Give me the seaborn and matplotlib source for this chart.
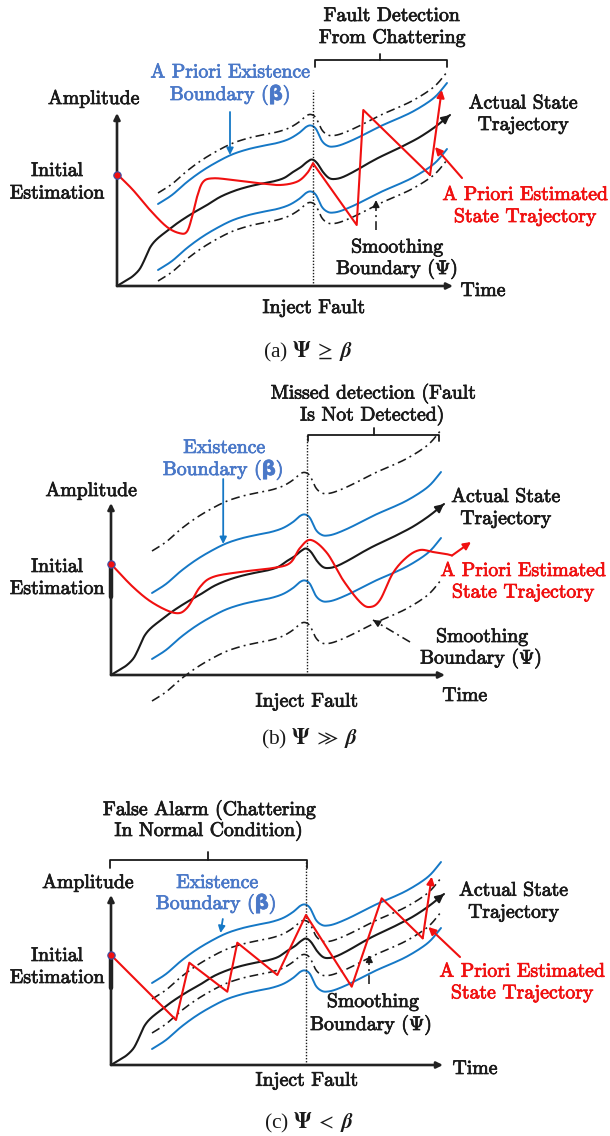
import numpy as np
import matplotlib
matplotlib.use("Agg")
import matplotlib.pyplot as plt
import matplotlib.patheffects as pe
import seaborn as sns

# ---------------------------------------------------------------- data ----
# Actual state trajectory (time, amplitude), shared by the three scenarios
actual_time = [0, 10, 16, 22, 26, 30, 34, 40, 50, 62, 76, 90, 103, 117, 130, 143,
               156, 167, 176, 184, 190, 195, 200, 206, 212, 218, 226, 238, 250,
               263, 276, 290, 303, 318, 333]
actual_amp = [0, 6, 10, 16, 23, 32, 40, 47, 55, 64, 73, 81, 89, 95, 99, 102,
              104.5, 108, 114, 119, 124, 126.5, 123, 114, 108, 107, 109, 115, 122,
              129, 135, 142, 149, 159, 171]

# Centre line of the boundary bands
band_time = [41, 55, 70, 85, 100, 115, 130, 145, 160, 172, 182, 189, 194, 199,
             205, 211, 217, 225, 238, 252, 266, 280, 295, 310, 320, 330]
band_center = [49, 58, 71, 82, 91, 98.5, 103.5, 107, 110, 114, 120, 126, 127.5, 124,
               112, 107, 106.5, 108.5, 114, 121, 128, 134, 141, 150, 158, 170]

existence_halfwidth = 33                      # beta
smoothing_halfwidth = {"a": 44, "b": 75, "c": 17}   # psi

# A priori estimated state trajectories
est_a_smooth_time = [1, 16, 33, 50, 63, 70, 75, 80, 86, 96, 116, 143, 163, 180, 190, 196]
est_a_smooth_amp = [111, 96, 76, 59, 52.7, 54.5, 69, 89, 104, 107.7, 106, 102.7, 101,
                    104.3, 112.7, 122.7]
est_a_chatter_time = [196, 239.7, 246.3, 313, 324.7]
est_a_chatter_amp = [122.7, 61, 176, 111, 196]

est_b_time = [0, 22, 42, 64, 76, 89, 102, 129, 162, 179, 189, 200, 216, 232, 249,
              259, 269, 282, 296, 309, 322, 335, 341]
est_b_amp = [111, 88, 72, 62, 67, 88, 98, 103, 107, 112, 127, 135, 122, 95, 73,
             68, 75, 102, 118, 125, 123, 121, 119.5]
est_b_tip = (360, 133)

est_c_time = [0, 65, 78.3, 116.3, 126.3, 166.3, 195, 240.7, 270.7, 311.7, 320.7]
est_c_amp = [110, 45, 102.3, 73.3, 122.3, 90, 150, 78.3, 166.7, 126.7, 188.3]

captions = {"a": r"(a) $\mathbf{\Psi}\ \geq\ \mathbfit{\beta}$",
            "b": r"(b) $\mathbf{\Psi}\ \gg\ \mathbfit{\beta}$",
            "c": r"(c) $\mathbf{\Psi}\ <\ \mathbfit{\beta}$"}

# ------------------------------------------------------------- styling ----
W, H = 610, 1136
BLACK = "#1a1a1a"
BLUE_LINE = "#1578c6"
BLUE_TEXT = "#4a78c8"
RED = "#f01010"
DASHDOT = (0, (5.5, 2.6, 1.2, 2.6))
FS = 14.2

sns.set_theme(style="white")
plt.rcParams["font.family"] = ["cmr10", "DejaVu Sans"]
plt.rcParams["mathtext.fontset"] = "cm"
plt.rcParams["axes.unicode_minus"] = False

fig = plt.figure(figsize=(W / 100, H / 100), dpi=100)


def catmull(t, v, n=16):
    p = np.column_stack([t, v]).astype(float)
    p = np.vstack([2 * p[0] - p[1], p, 2 * p[-1] - p[-2]])
    s = np.linspace(0, 1, n, endpoint=False)[:, None]
    out = []
    for i in range(1, len(p) - 2):
        p0, p1, p2, p3 = p[i - 1], p[i], p[i + 1], p[i + 2]
        out.append(0.5 * (2 * p1 + (-p0 + p2) * s
                          + (2 * p0 - 5 * p1 + 4 * p2 - p3) * s ** 2
                          + (-p0 + 3 * p1 - 3 * p2 + p3) * s ** 3))
    out.append(p[-2][None, :])
    return np.vstack(out)


def curve(ax, t, v, color, lw=1.4, ls="-", smooth=True):
    pts = catmull(t, v) if smooth else np.column_stack([t, v])
    sns.lineplot(x=pts[:, 0], y=pts[:, 1], ax=ax, color=color, lw=lw,
                 linestyle=ls, sort=False, estimator=None, legend=False)
    return pts


def arrow(ax, tail, head, color, lw=1.4, ms=11):
    ax.annotate("", xy=head, xytext=tail,
                arrowprops=dict(arrowstyle="-|>", color=color, lw=lw,
                                shrinkA=0, shrinkB=0, mutation_scale=ms))


def dashed_arrow(ax, tail, head, color=BLACK, lw=1.15):
    curve(ax, [tail[0], head[0]], [tail[1], head[1]], color, lw=lw, ls=DASHDOT, smooth=False)
    d = np.array(head, float) - np.array(tail, float)
    d /= np.hypot(*d)
    arrow(ax, tuple(np.array(head) - 7 * d), head, color, lw=lw, ms=10)


def make_panel(ox, oy, ytop, ybot):
    ax = fig.add_axes([0, 1 - ybot / H, 1, (ybot - ytop) / H])
    ax.set_xlim(-ox, W - ox)
    ax.set_ylim(oy - ybot, oy - ytop)
    ax.axis("off")

    def put(x, y, s, color=BLACK, size=FS, heavy=True, **kw):
        effects = [pe.withStroke(linewidth=0.55, foreground=color)] if heavy else []
        ax.text(x - ox, oy - y, s, color=color, fontsize=size, ha="center",
                va="center", path_effects=effects, **kw)
    return ax, put


def bracket(ax, u0, u1, v_bar, v_end, u_nub, v_nub):
    curve(ax, [u0, u0, u1, u1], [v_end, v_bar, v_bar, v_end], BLACK, lw=1.3, smooth=False)
    curve(ax, [u_nub, u_nub], [v_bar, v_nub], BLACK, lw=1.3, smooth=False)


def common(ax, key, x_end, y_top, init_amp, thick_bar=False):
    center = np.array(band_center)
    sw = smoothing_halfwidth[key]
    curve(ax, band_time, center + sw, BLACK, lw=1.15, ls=DASHDOT)
    curve(ax, band_time, center - sw, BLACK, lw=1.15, ls=DASHDOT)
    curve(ax, band_time, center + existence_halfwidth, BLUE_LINE, lw=1.4)
    curve(ax, band_time, center - existence_halfwidth, BLUE_LINE, lw=1.4)
    pts = curve(ax, actual_time, actual_amp, BLACK, lw=1.5)
    arrow(ax, tuple(pts[-4]), tuple(pts[-1]), BLACK, lw=1.5, ms=12)
    # coordinate axes
    arrow(ax, (0, 0), (0, y_top), "#222222", lw=1.9, ms=9)
    arrow(ax, (0, 0), (x_end, 0), "#222222", lw=1.9, ms=9)
    if thick_bar:
        curve(ax, [0, 0], [init_amp, init_amp - 33], "#222222", lw=3.2, smooth=False)
    sns.scatterplot(x=[0], y=[init_amp], ax=ax, s=28, color=RED,
                    edgecolor="#3a4fa8", linewidth=0.8, zorder=6, legend=False)


CAPTION_KW = dict(size=15.5, heavy=False, family="Liberation Serif", math_fontfamily="stix")

# ------------------------------------------------------------ panel (a) ----
ox, oy = 117, 286
ax, put = make_panel(ox, oy, 0, 370)
common(ax, "a", 336, 173, 111)
curve(ax, [196, 196], [0, 196], BLACK, lw=1.0, ls=(0, (1, 1.2)), smooth=False)
curve(ax, est_a_smooth_time, est_a_smooth_amp, RED, lw=1.5)
curve(ax, est_a_chatter_time[:-1], est_a_chatter_amp[:-1], RED, lw=1.5, smooth=False)
arrow(ax, (est_a_chatter_time[-2], est_a_chatter_amp[-2]),
      (est_a_chatter_time[-1], est_a_chatter_amp[-1]), RED, lw=1.5, ms=11)
bracket(ax, 197.8, 329.8, 226, 219, 263, 232)
arrow(ax, (113, 174), (113, 131), BLUE_LINE, lw=1.3, ms=10)
dashed_arrow(ax, (259, 56), (259, 86))
arrow(ax, (345, 108), (318, 139), RED, lw=1.5, ms=11)

put(391.5, 16, "Fault Detection")
put(392, 38, "From Chattering")
put(230, 72.5, "A Priori Existence", BLUE_TEXT)
put(230, 95, "Boundary (β)", BLUE_TEXT, fontweight="bold")
put(93.5, 99, "Amplitude")
put(523, 103.5, "Actual State")
put(523, 125, "Trajectory")
put(57, 171, "Initial")
put(57, 193.5, "Estimation")
put(525, 195, "A Priori Estimated", RED)
put(525, 217, "State Trajectory", RED)
put(397, 247.5, "Smoothing")
put(397, 269, r"Boundary ($\mathbf{\Psi}$)")
put(483, 291, "Time")
put(313.6, 308, "Inject Fault")
put(308, 352, captions["a"], **CAPTION_KW)

# ------------------------------------------------------------ panel (b) ----
ox, oy = 111, 675
ax, put = make_panel(ox, oy, 370, 760)
common(ax, "b", 334, 172, 111, thick_bar=True)
curve(ax, [196, 196], [0, 240], BLACK, lw=1.0, ls=(0, (1, 1.2)), smooth=False)
curve(ax, est_b_time, est_b_amp, RED, lw=1.5)
arrow(ax, (est_b_time[-1], est_b_amp[-1]), est_b_tip, RED, lw=1.5, ms=11)
bracket(ax, 196.8, 328.4, 240.4, 234, 263, 247)
arrow(ax, (112.2, 196), (112.2, 131), BLUE_LINE, lw=1.3, ms=10)
dashed_arrow(ax, (299, 33), (262, 55))

put(373, 393.5, "Missed detection (Fault")
put(372, 415.5, "Is Not Detected)")
put(224, 448, "Existence", BLUE_TEXT)
put(223, 470, "Boundary (β)", BLUE_TEXT, fontweight="bold")
put(91, 491, "Amplitude")
put(505.6, 497, "Actual State")
put(505.6, 519, "Trajectory")
put(57, 567, "Initial")
put(57, 589, "Estimation")
put(523, 571, "A Priori Estimated", RED)
put(523, 592.5, "State Trajectory", RED)
put(482, 637, "Smoothing")
put(481, 658.5, r"Boundary ($\Psi$)")
put(464.7, 696, "Time")
put(306.6, 701.6, "Inject Fault")
put(309.7, 739, captions["b"], **CAPTION_KW)

# ------------------------------------------------------------ panel (c) ----
ox, oy = 111, 1065
ax, put = make_panel(ox, oy, 760, 1136)
common(ax, "c", 332, 170, 110, thick_bar=True)
curve(ax, [195, 195], [0, 205], BLACK, lw=1.0, ls=(0, (1, 1.2)), smooth=False)
curve(ax, est_c_time[:-1], est_c_amp[:-1], RED, lw=1.5, smooth=False)
arrow(ax, (est_c_time[-2], est_c_amp[-2]), (est_c_time[-1], est_c_amp[-1]), RED, lw=1.5, ms=11)
bracket(ax, -1, 195.6, 205, 197, 97.4, 213.3)
arrow(ax, (111.8, 146), (109.5, 132), BLUE_LINE, lw=1.3, ms=10)
dashed_arrow(ax, (258.3, 81), (258.3, 110))
arrow(ax, (349, 108), (317.3, 138), RED, lw=1.5, ms=11)

put(209, 810, "False Alarm (Chattering")
put(208.4, 831, "In Normal Condition)")
put(87.7, 883, "Amplitude")
put(217, 883, "Existence", BLUE_TEXT)
put(216, 904, "Boundary (β)", BLUE_TEXT, fontweight="bold")
put(513.4, 890.7, "Actual State")
put(513.4, 912.7, "Trajectory")
put(57, 956, "Initial")
put(57, 978, "Estimation")
put(522, 971.7, "A Priori Estimated", RED)
put(522, 993.3, "State Trajectory", RED)
put(372.8, 1002, "Smoothing")
put(371, 1025, r"Boundary ($\mathbf{\Psi}$)")
put(475, 1069, "Time")
put(306.6, 1080.7, "Inject Fault")
put(309, 1123, captions["c"], **CAPTION_KW)

fig.savefig("out.png", dpi=100, facecolor="white")
